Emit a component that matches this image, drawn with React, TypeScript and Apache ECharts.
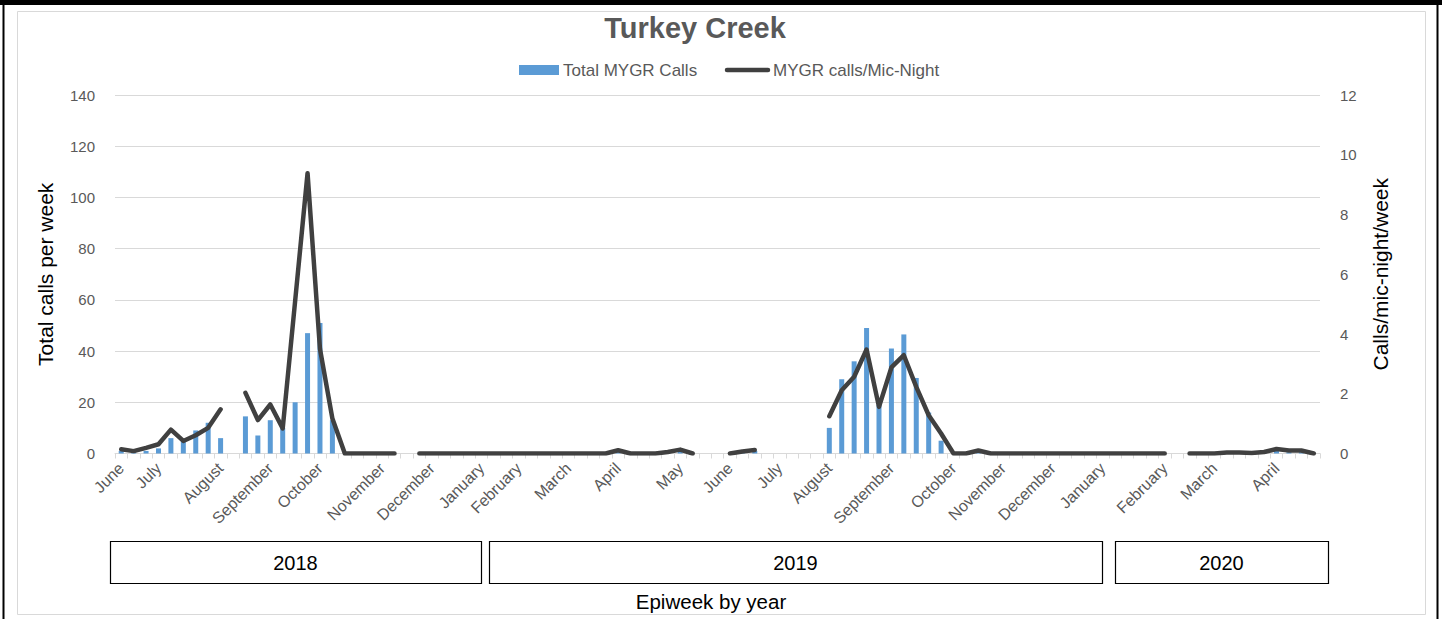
import React, { useEffect, useRef } from 'react';
import * as echarts from 'echarts';

// ---- data (epiweeks, June 2018 .. April 2020) ----
const weekCount = 97;
const monthLabels = ['June', 'July', 'August', 'September', 'October', 'November', 'December', 'January', 'February', 'March', 'April', 'May', 'June', 'July', 'August', 'September', 'October', 'November', 'December', 'January', 'February', 'March', 'April'];
const monthLabelWeek = [0, 3, 8, 12, 16, 21, 25, 29, 32, 36, 40, 45, 49, 53, 57, 62, 67, 71, 75, 79, 84, 88, 93];

const totalCalls = [
  1, 0.5, 1, 2, 6, 5, 9, 12, 6, null,
  14.5, 7, 13, 10, 20, 47, 51, 13, 0, 0,
  0, 0, 0, null, 0, 0, 0, 0, 0, 0,
  0, 0, 0, 0, 0, 0, 0, 0, 0, 0,
  1, 0, 0, 0, 0.5, 1, 0, null, null, 0,
  0.5, 1, null, null, null, null, null, 10, 29, 36,
  49, 19, 41, 46.5, 29.5, 16, 5, 0, 0, 1,
  0, 0, 0, 0, 0, 0, 0, 0, 0, 0,
  0, 0, 0, 0, 0, null, 0, 0, 0, 0.3,
  0.3, 0.3, 0.5, 1, 0.5, 0.5, 0,
];

const callsPerMicNight = [
  0.14, 0.08, 0.19, 0.31, 0.8, 0.42, 0.61, 0.86, 1.48, null,
  2.03, 1.12, 1.64, 0.84, 5.1, 9.38, 3.5, 1.17, 0, 0,
  0, 0, 0, null, 0, 0, 0, 0, 0, 0,
  0, 0, 0, 0, 0, 0, 0, 0, 0, 0,
  0.11, 0, 0, 0, 0.05, 0.13, 0, null, null, 0,
  0.07, 0.12, null, null, null, null, null, 1.25, 2.12, 2.57,
  3.48, 1.56, 2.88, 3.29, 2.23, 1.28, 0.67, 0, 0, 0.1,
  0, 0, 0, 0, 0, 0, 0, 0, 0, 0,
  0, 0, 0, 0, 0, null, 0, 0, 0, 0.03,
  0.03, 0.02, 0.05, 0.15, 0.1, 0.1, 0,
];

const leftTicks = { min: 0, max: 140, interval: 20 };
const rightTicks = { min: 0, max: 12, interval: 2 };

const years = ['2018', '2019', '2020'];
const seriesNames = ['Total MYGR Calls', 'MYGR calls/Mic-Night'];

const FONT = "'Liberation Sans', Arial, sans-serif";
const GREY = '#595959';
const BAR_COLOR = '#5B9BD5';
const LINE_COLOR = '#404040';

export default function App() {
  const ref = useRef<HTMLDivElement>(null);

  useEffect(() => {
    if (!ref.current) return;
    const chart = echarts.init(ref.current, undefined, { renderer: 'svg' });

    const categories = Array.from({ length: weekCount }, (_, i) => 'wk' + i);
    const labelFor: Record<number, string> = {};
    monthLabelWeek.forEach((w, k) => { labelFor[w] = monthLabels[k]; });

    const yearBoxes = [
      { x: 110, w: 371 },
      { x: 489, w: 613 },
      { x: 1115, w: 213 },
    ];

    chart.setOption({
      animation: false,
      backgroundColor: '#ffffff',
      textStyle: { fontFamily: FONT },
      legend: { show: false, data: seriesNames },
      grid: { left: 115, right: 122, top: 95, bottom: 165.5, containLabel: false },
      xAxis: {
        type: 'category',
        data: categories,
        boundaryGap: true,
        axisLine: { show: true, lineStyle: { color: '#d9d9d9', width: 1 } },
        axisTick: { show: true, interval: 0, length: 5, lineStyle: { color: '#d9d9d9' } },
        axisLabel: {
          interval: 0,
          rotate: 45,
          margin: 12,
          fontSize: 16,
          color: GREY,
          fontFamily: FONT,
          formatter: (_v: string, idx: number) => labelFor[idx] || '',
        },
        splitLine: { show: false },
      },
      yAxis: [
        {
          type: 'value',
          ...leftTicks,
          position: 'left',
          name: 'Total calls per week',
          nameLocation: 'middle',
          nameRotate: 90,
          nameGap: 59,
          nameTextStyle: { fontSize: 21, color: '#000', fontFamily: FONT },
          axisLine: { show: false },
          axisTick: { show: false },
          axisLabel: { margin: 20, fontSize: 15, color: GREY, fontFamily: FONT },
          splitLine: { show: true, lineStyle: { color: '#d9d9d9', width: 1 } },
        },
        {
          type: 'value',
          ...rightTicks,
          position: 'right',
          name: 'Calls/mic-night/week',
          nameLocation: 'middle',
          nameRotate: 90,
          nameGap: 50,
          nameTextStyle: { fontSize: 21, color: '#000', fontFamily: FONT },
          axisLine: { show: false },
          axisTick: { show: false },
          axisLabel: { margin: 20, fontSize: 15, color: GREY, fontFamily: FONT },
          splitLine: { show: false },
        },
      ],
      series: [
        {
          type: 'bar',
          name: seriesNames[0],
          yAxisIndex: 0,
          data: totalCalls,
          barWidth: 5,
          itemStyle: { color: BAR_COLOR },
        },
        {
          type: 'line',
          name: seriesNames[1],
          yAxisIndex: 1,
          data: callsPerMicNight,
          symbol: 'none',
          connectNulls: false,
          z: 3,
          lineStyle: { width: 4.5, color: LINE_COLOR, cap: 'round', join: 'round' },
          itemStyle: { color: LINE_COLOR },
        },
      ],
      graphic: [
        // outer frame
        { type: 'rect', shape: { x: 0, y: 0, width: 1442, height: 5 }, style: { fill: '#000' }, silent: true },
        { type: 'line', shape: { x1: 3.5, y1: 0, x2: 3.5, y2: 619 }, style: { stroke: '#000', lineWidth: 2 }, silent: true },
        { type: 'line', shape: { x1: 1437.5, y1: 0, x2: 1437.5, y2: 619 }, style: { stroke: '#000', lineWidth: 2 }, silent: true },
        { type: 'rect', shape: { x: 17.5, y: 11.5, width: 1408, height: 603 }, style: { fill: 'none', stroke: '#d9d9d9', lineWidth: 1 }, silent: true },
        // title
        {
          type: 'text', x: 695, y: 28, silent: true,
          style: { text: 'Turkey Creek', fontSize: 29, fontWeight: 'bold', fontFamily: FONT, fill: GREY, align: 'center', verticalAlign: 'middle' },
        },
        // legend
        { type: 'rect', shape: { x: 519, y: 65, width: 40, height: 10 }, style: { fill: BAR_COLOR }, silent: true },
        {
          type: 'text', x: 563, y: 70, silent: true,
          style: { text: seriesNames[0], fontSize: 17, fontFamily: FONT, fill: GREY, align: 'left', verticalAlign: 'middle' },
        },
        { type: 'line', shape: { x1: 727, y1: 70, x2: 768, y2: 70 }, style: { stroke: LINE_COLOR, lineWidth: 4.5, lineCap: 'round' }, silent: true },
        {
          type: 'text', x: 773, y: 70, silent: true,
          style: { text: seriesNames[1], fontSize: 17, fontFamily: FONT, fill: GREY, align: 'left', verticalAlign: 'middle' },
        },
        // year boxes
        ...years.flatMap((yr, k) => [
          {
            type: 'rect',
            shape: { x: yearBoxes[k].x + 0.5, y: 541.5, width: yearBoxes[k].w, height: 42 },
            style: { fill: '#fff', stroke: '#000', lineWidth: 1.2 },
            silent: true,
          },
          {
            type: 'text',
            x: yearBoxes[k].x + yearBoxes[k].w / 2,
            y: 563,
            style: { text: yr, fontSize: 20, fontFamily: FONT, fill: '#000', align: 'center', verticalAlign: 'middle' },
            silent: true,
          },
        ]),
        {
          type: 'text',
          x: 711,
          y: 601,
          style: { text: 'Epiweek by year', fontSize: 20.5, fontFamily: FONT, fill: '#000', align: 'center', verticalAlign: 'middle' },
          silent: true,
        },
      ],
    });

    return () => chart.dispose();
  }, []);

  return (
    <div
      ref={ref}
      style={{ position: 'fixed', left: 0, top: 0, width: 1442, height: 619, background: '#fff' }}
    />
  );
}
